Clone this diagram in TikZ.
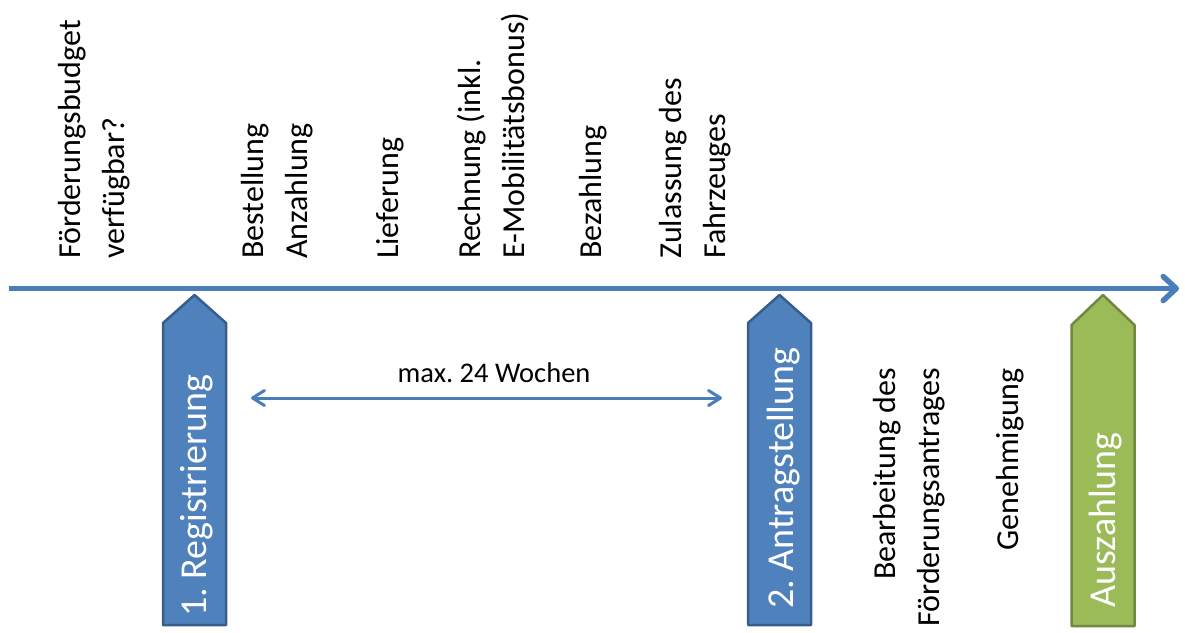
\documentclass[tikz,border=0pt]{standalone}
\usepackage{fontspec}
\setmainfont{Carlito}
\usetikzlibrary{arrows.meta}
\frenchspacing

\definecolor{pptblue}{RGB}{79,129,189}
\definecolor{pptblueline}{RGB}{56,93,138}
\definecolor{pptgreen}{RGB}{155,187,89}
\definecolor{pptgreenline}{RGB}{113,137,62}
\definecolor{axisblue}{RGB}{74,126,187}

\tikzset{
  toplabel/.style={rotate=90, inner sep=0, align=left, anchor=north west,
    font=\fontsize{32}{44}\selectfont},
  lowlabel/.style={rotate=90, inner sep=0, align=right, anchor=north east,
    font=\fontsize{32}{44}\selectfont},
  boxlabel/.style={rotate=90, inner sep=0, anchor=west, text=white,
    font=\fontsize{38}{44}\selectfont},
  bluebox/.style={fill=pptblue, draw=pptblueline, line width=2.5, line join=round},
  greenbox/.style={fill=pptgreen, draw=pptgreenline, line width=2.5, line join=round},
  timeaxis/.style={draw=axisblue, line width=5.5,
    -{Straight Barb[length=13, width=24, round]}},
  span/.style={draw=axisblue, line width=3,
    {Straight Barb[length=12, width=15, round]}-{Straight Barb[length=12, width=15, round]}}
}

\begin{document}
\begin{tikzpicture}[x=1pt, y=-1pt]
\useasboundingbox (0,0) rectangle (1185,632);

% time line
\coordinate (axis-start) at (9,288.5);
\coordinate (axis-end) at (1179,288.5);
\draw [timeaxis] (axis-start) -- (axis-end);

% steps above the line
\node [toplabel] (budget) at (58,259) {Förderungsbudget\\verfügbar?};
\node [toplabel] (order) at (241,259) {Bestellung\\Anzahlung};
\node [toplabel] (delivery) at (376,259) {Lieferung};
\node [toplabel] (invoice) at (457,259) {Rechnung (inkl.\\E-Mobilitätsbonus)};
\node [toplabel] (payment) at (579,259) {Bezahlung};
\node [toplabel] (licence) at (659,259) {Zulassung des\\Fahrzeuges};

% milestones
\foreach \x in {194.5, 779.5}
	\draw [bluebox] (\x-31.5,625) -- (\x-31.5,323) -- (\x,295) -- (\x+31.5,323) -- (\x+31.5,625) -- cycle;
\draw [greenbox] (1071.5,626) -- (1071.5,325) -- (1103,295) -- (1134.5,325) -- (1134.5,626) -- cycle;

\node [boxlabel] (register) at (197,617) {1. Registrierung};
\node [boxlabel] (apply) at (784,609) {2. Antragstellung};
\node [boxlabel] (payout) at (1106,608) {Auszahlung};

% time span
\coordinate (span-left) at (251,398);
\coordinate (span-right) at (722,398);
\draw [span] (span-left) -- (span-right);
\node [anchor=base, inner sep=0, font=\fontsize{28.5}{34}\selectfont] (span-text) at (494,382) {max. 24 Wochen};

% steps below the line
\node [lowlabel] (processing) at (873,368) {Bearbeitung des\\Förderungsantrages};
\node [lowlabel] (approval) at (996,368) {Genehmigung};
\end{tikzpicture}
\end{document}
